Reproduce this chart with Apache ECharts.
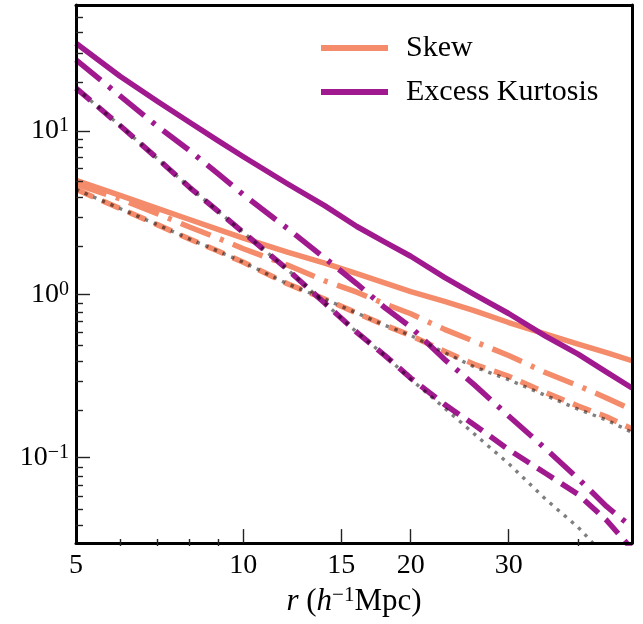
<!DOCTYPE html>
<html>
<head>
<meta charset="utf-8">
<script src="https://cdn.jsdelivr.net/npm/echarts@6/dist/echarts.min.js"></script>
<style>
html,body{margin:0;padding:0;background:#fff;}
#chart{width:643px;height:624px;}
</style>
</head>
<body>
<div id="chart"></div>
<script>
// ---- data ----
const r = [5, 6, 7, 8, 9, 10, 12, 14, 16, 18, 20, 23, 26, 30, 35, 40, 45, 50];

const skewSolid   = [4.99, 4.03, 3.36, 2.87, 2.50, 2.21, 1.81, 1.55, 1.34, 1.17, 1.04, 0.905, 0.795, 0.672, 0.570, 0.495, 0.440, 0.392];
const skewDashDot = [4.72, 3.84, 3.12, 2.58, 2.21, 1.90, 1.51, 1.21, 1.03, 0.872, 0.76, 0.61, 0.515, 0.422, 0.331, 0.276, 0.232, 0.196];
const skewDashed  = [4.39, 3.35, 2.67, 2.18, 1.84, 1.57, 1.16, 0.935, 0.768, 0.645, 0.56, 0.448, 0.373, 0.315, 0.25, 0.207, 0.178, 0.150];
const skewModel   = [4.39, 3.35, 2.67, 2.18, 1.84, 1.57, 1.16, 0.935, 0.768, 0.645, 0.56, 0.44, 0.36, 0.30, 0.24, 0.198, 0.17, 0.143];

const kurtSolid   = [34.4, 21.6, 15.2, 11.3, 8.73, 6.95, 4.75, 3.49, 2.60, 2.08, 1.71, 1.27, 1.0, 0.763, 0.553, 0.43, 0.334, 0.267];
const kurtDashDot = [27.2, 16.4, 10.7, 7.6, 5.47, 4.07, 2.53, 1.67, 1.16, 0.824, 0.63, 0.40, 0.28, 0.18, 0.113, 0.0745, 0.0503, 0.0375];
const kurtDashed  = [18.3, 10.8, 6.79, 4.52, 3.23, 2.39, 1.42, 0.884, 0.585, 0.42, 0.307, 0.212, 0.159, 0.112, 0.080, 0.0596, 0.0414, 0.0275];
const kurtModel   = [18.3, 10.8, 6.79, 4.52, 3.23, 2.39, 1.42, 0.884, 0.585, 0.42, 0.302, 0.2015, 0.14, 0.092, 0.0555, 0.0375, 0.0245, null];

const xTickLabels = [5, 10, 15, 20, 30];
const xMajorTicks = [10, 15, 20, 30];
const xMinorTicks = [6, 7, 8, 9, 40];
const yMajorTicks = [0.1, 1, 10];
const yMinorTicks = [0.04, 0.05, 0.06, 0.07, 0.08, 0.09, 0.2, 0.3, 0.4, 0.5, 0.6, 0.7, 0.8, 0.9,
                     2, 3, 4, 5, 6, 7, 8, 9, 20, 30, 40, 50];

const legendNames = ['Skew', 'Excess Kurtosis'];

// ---- styling ----
const ORANGE = '#F48B6A';
const PURPLE = '#A0198E';
const GREY = 'rgba(0,0,0,0.5)';
const FONT = "'Liberation Serif', 'DejaVu Serif', serif";
const LW = 5.5;
const DASHDOT = [32, 10, 4, 10];
const DASHED = [19, 9.5];
const DOTTED = [3.4, 6];

const XMIN = 5, XMAX = 50, YMIN = 0.03, YMAX = 59;
const GRID = {left: 76, right: 11, top: 5, bottom: 78};

function pairs(vals) { return r.map((x, i) => [x, vals[i]]); }

function mk(name, vals, color, type, width, z) {
  return {
    name: name, type: 'line', data: pairs(vals), xAxisIndex: 0, yAxisIndex: 0,
    symbol: 'none', showSymbol: false, color: color, z: z, connectNulls: false,
    lineStyle: {color: color, width: width, type: type, cap: 'butt', join: 'round'},
    emphasis: {disabled: true}, silent: true
  };
}

function supFmt(v) {
  const e = Math.round(Math.log10(v));
  const s = e < 0 ? '\u2212' + (-e) : String(e);
  return '{b|10}{s|' + s + '}';
}

const chart = echarts.init(document.getElementById('chart'), null, {renderer: 'canvas'});
const option = {
  animation: false,
  backgroundColor: '#fff',
  grid: [
    Object.assign({}, GRID, {containLabel: false}),
    Object.assign({}, GRID, {containLabel: false})
  ],
  legend: {
    z: 20,
    data: [
      {name: legendNames[0], icon: 'rect', itemStyle: {color: ORANGE, borderWidth: 0, opacity: 1}},
      {name: legendNames[1], icon: 'rect', itemStyle: {color: PURPLE, borderWidth: 0, opacity: 1}}
    ],
    orient: 'vertical',
    left: 316, top: 28,
    itemWidth: 67, itemHeight: 6,
    itemGap: 14,
    selectedMode: false,
    itemStyle: {borderWidth: 0},
    formatter: name => '{p|}{t|' + name + '}',
    textStyle: {
      fontSize: 30, fontFamily: FONT, color: '#000', lineHeight: 30,
      rich: {
        p: {width: 13, height: 30},
        t: {fontSize: 30, fontFamily: FONT, color: '#000', lineHeight: 30}
      }
    }
  },
  xAxis: [
    { // main bottom axis (major ticks + labels + title)
      type: 'log', logBase: 10, min: XMIN, max: XMAX, gridIndex: 0, position: 'bottom', z: 10,
      axisLine: {show: true, lineStyle: {color: '#000', width: 3}},
      axisTick: {show: true, inside: true, length: 14, customValues: xMajorTicks, lineStyle: {color: '#222', width: 1.4}},
      axisLabel: {show: true, customValues: xTickLabels, formatter: v => String(v), margin: 9,
                  fontSize: 28, fontFamily: FONT, color: '#000'},
      splitLine: {show: false}, minorTick: {show: false},
      name: '{i|r} {n|(}{i|h}{s|\u22121}{n|Mpc)}',
      nameLocation: 'middle', nameGap: 35,
      nameTextStyle: {
        fontSize: 31, fontFamily: FONT, color: '#000', lineHeight: 34,
        rich: {
          i: {fontSize: 31, fontFamily: FONT, fontStyle: 'italic', color: '#000', lineHeight: 34},
          n: {fontSize: 31, fontFamily: FONT, color: '#000', lineHeight: 34},
          s: {fontSize: 21, fontFamily: FONT, color: '#000', lineHeight: 22, verticalAlign: 'top'}
        }
      }
    },
    { // top frame
      type: 'log', logBase: 10, min: XMIN, max: XMAX, gridIndex: 0, position: 'top', z: 10,
      axisLine: {show: true, lineStyle: {color: '#000', width: 3}},
      axisTick: {show: false}, axisLabel: {show: false}, splitLine: {show: false}
    },
    { // minor ticks at bottom
      type: 'log', logBase: 10, min: XMIN, max: XMAX, gridIndex: 1, position: 'bottom', z: 10,
      axisLine: {show: false},
      axisTick: {show: true, inside: true, length: 7, customValues: xMinorTicks, lineStyle: {color: '#222', width: 1.4}},
      axisLabel: {show: false}, splitLine: {show: false}
    }
  ],
  yAxis: [
    { // main left axis
      type: 'log', logBase: 10, min: YMIN, max: YMAX, gridIndex: 0, position: 'left', z: 10,
      axisLine: {show: true, lineStyle: {color: '#000', width: 3}},
      axisTick: {show: true, inside: true, length: 14, customValues: yMajorTicks, lineStyle: {color: '#222', width: 1.4}},
      axisLabel: {
        show: true, customValues: yMajorTicks, formatter: supFmt, margin: 7,
        rich: {
          b: {fontSize: 28, fontFamily: FONT, color: '#000', lineHeight: 30},
          s: {fontSize: 20, fontFamily: FONT, color: '#000', lineHeight: 20, verticalAlign: 'top'}
        }
      },
      splitLine: {show: false}, minorTick: {show: false}
    },
    { // right frame
      type: 'log', logBase: 10, min: YMIN, max: YMAX, gridIndex: 0, position: 'right', z: 10,
      axisLine: {show: true, lineStyle: {color: '#000', width: 3}},
      axisTick: {show: false}, axisLabel: {show: false}, splitLine: {show: false}
    },
    { // minor ticks at left
      type: 'log', logBase: 10, min: YMIN, max: YMAX, gridIndex: 1, position: 'left', z: 10,
      axisLine: {show: false},
      axisTick: {show: true, inside: true, length: 7, customValues: yMinorTicks, lineStyle: {color: '#222', width: 1.4}},
      axisLabel: {show: false}, splitLine: {show: false}
    }
  ],
  series: [
    mk('Skew', skewSolid, ORANGE, 'solid', LW, 2),
    mk('Skew dash-dot', skewDashDot, ORANGE, DASHDOT, LW, 2),
    mk('Skew dashed', skewDashed, ORANGE, DASHED, LW, 2),
    mk('Excess Kurtosis', kurtSolid, PURPLE, 'solid', LW, 3),
    mk('Kurtosis dash-dot', kurtDashDot, PURPLE, DASHDOT, LW, 3),
    mk('Kurtosis dashed', kurtDashed, PURPLE, DASHED, LW, 3),
    mk('Skew model', skewModel, GREY, DOTTED, 3.4, 4),
    mk('Kurtosis model', kurtModel, GREY, DOTTED, 3.4, 4)
  ]
};
chart.setOption(option);
</script>
</body>
</html>
